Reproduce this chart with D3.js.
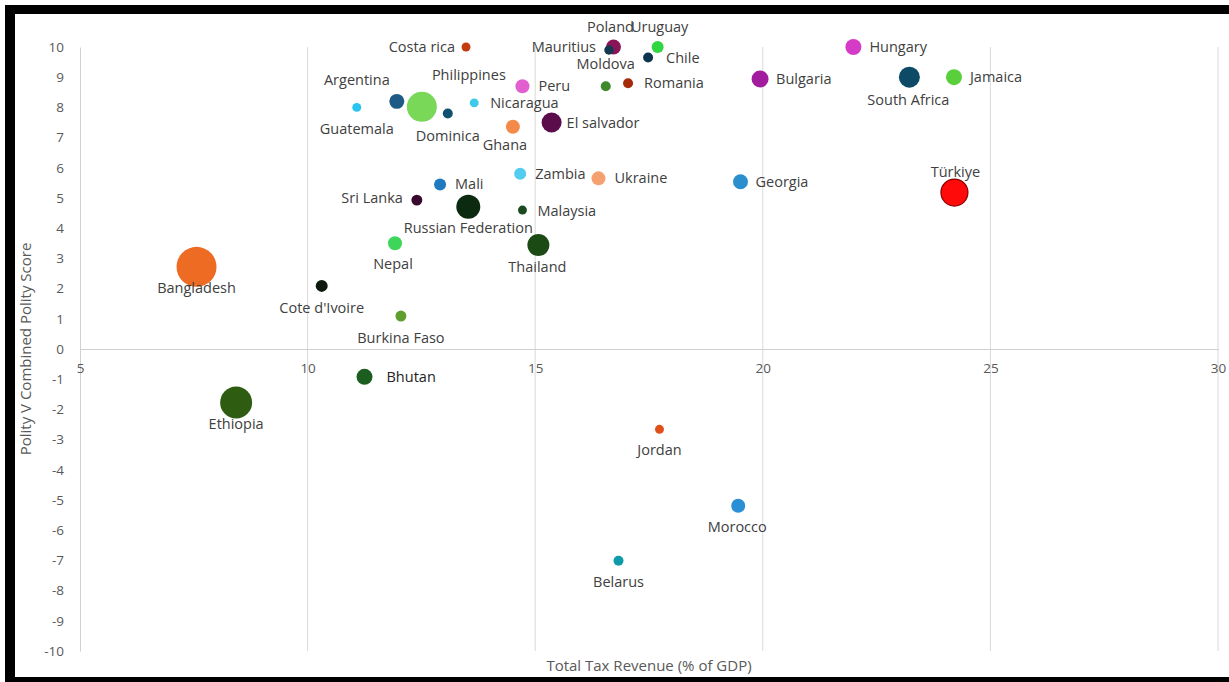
<!DOCTYPE html>
<html>
<head>
<meta charset="utf-8">
<script src="https://cdn.jsdelivr.net/npm/d3@7"></script>
<style>
  body { margin: 0; background: #fff; }
  text { font-family: "Open Sans", "Noto Sans", sans-serif; }
  .lbl { font-size: 14.5px; fill: #404040; }
  .tick text { font-size: 13.5px; fill: #595959; }
  .title { font-size: 15px; fill: #595959; }
</style>
</head>
<body>
<div id="chart"></div>
<script>
// data
var countries = ["Bangladesh", "Ethiopia", "Cote d'Ivoire", "Guatemala", "Bhutan", "Nepal",
  "Argentina", "Burkina Faso", "Sri Lanka", "Philippines", "Mali", "Dominica", "Costa rica",
  "Russian Federation", "Nicaragua", "Ghana", "Zambia", "Peru", "Malaysia", "Thailand",
  "El salvador", "Ukraine", "Moldova", "Poland", "Mauritius", "Belarus", "Romania", "Chile",
  "Uruguay", "Jordan", "Morocco", "Georgia", "Bulgaria", "Hungary", "South Africa", "Jamaica", "Türkiye"];
var taxRevenue = [7.56, 8.43, 10.31, 11.08, 11.25, 11.92,
  11.96, 12.05, 12.4, 12.51, 12.91, 13.08, 13.48,
  13.53, 13.66, 14.51, 14.67, 14.72, 14.72, 15.07,
  15.36, 16.39, 16.55, 16.72, 16.62, 16.83, 17.04, 17.48,
  17.69, 17.73, 19.46, 19.51, 19.94, 21.99, 23.22, 24.2, 24.21];
var polityScore = [2.72, -1.77, 2.09, 8.0, -0.92, 3.5,
  8.2, 1.09, 4.93, 8.02, 5.45, 7.8, 10,
  4.71, 8.15, 7.36, 5.8, 8.7, 4.6, 3.44,
  7.5, 5.65, 8.7, 10, 9.9, -7.01, 8.8, 9.65,
  10, -2.66, -5.19, 5.54, 8.94, 10, 9, 9, 5.18];
var bubbleSize = [400, 256, 36, 20, 64, 49,
  56, 30, 30, 225, 36, 25, 20,
  144, 20, 49, 36, 49, 20, 121,
  100, 49, 25, 56, 22, 25, 25, 25,
  36, 20, 49, 56, 72, 64, 110, 64, 182];
var xTicks = [5, 10, 15, 20, 25, 30];
var yTicks = d3.range(-10, 11);

// styling, kept apart from the data
var pointColors = ["#ee6b24", "#2e5d12", "#0d1a0d", "#29c4f0", "#1b5e20", "#3ed65a",
  "#1d5a85", "#5f9e2f", "#3a0a2e", "#7ad858", "#1e7bbf", "#0f5270", "#c23b0e",
  "#0b2a10", "#3ec9ea", "#f48a4a", "#52ccf0", "#e25fd0", "#1a4a20", "#1c4a15",
  "#5a0d4a", "#f5a070", "#3e8a2a", "#8a1458", "#123850", "#0e9aa8", "#a52a0a", "#0d3550",
  "#2ed641", "#e0501a", "#2a8fd6", "#2a8fcc", "#a21c9e", "#d43cc8", "#0c4a66", "#5acf3c", "#ff0a0a"];
// label offset from the bubble centre: [dx, dy, anchor]
var labelPos = {
  "Bangladesh": [0, 21, "middle"], "Ethiopia": [0, 21, "middle"], "Cote d'Ivoire": [0, 22, "middle"],
  "Guatemala": [0, 22, "middle"], "Bhutan": [22, 0, "start"], "Nepal": [-2, 21, "middle"],
  "Argentina": [-40, -21, "middle"], "Burkina Faso": [0, 22, "middle"], "Sri Lanka": [-14, -2, "end"],
  "Philippines": [47, -32, "middle"], "Mali": [15, 0, "start"], "Dominica": [0, 22, "middle"],
  "Costa rica": [-11, 0, "end"], "Russian Federation": [0, 21, "middle"], "Nicaragua": [16, 0, "start"],
  "Ghana": [-8, 18, "middle"], "Zambia": [15, 0, "start"], "Peru": [16, 0, "start"],
  "Malaysia": [15, 1, "start"], "Thailand": [-1, 22, "middle"], "El salvador": [15, 0, "start"],
  "Ukraine": [16, 0, "start"], "Moldova": [0, -22, "middle"], "Poland": [-3, -20, "middle"],
  "Mauritius": [-13, -3, "end"], "Belarus": [0, 21, "middle"], "Romania": [16, 0, "start"],
  "Chile": [18, 0, "start"], "Uruguay": [2, -20, "middle"], "Jordan": [0, 21, "middle"],
  "Morocco": [-1, 21, "middle"], "Georgia": [15, 0, "start"], "Bulgaria": [16, 0, "start"],
  "Hungary": [16, 0, "start"], "South Africa": [-1, 23, "middle"], "Jamaica": [16, 0, "start"],
  "Türkiye": [1, -21, "middle"]
};

var svgWidth = 1229, svgHeight = 682;
var svg = d3.select("#chart").append("svg")
  .attr("width", svgWidth)
  .attr("height", svgHeight);

svg.append("rect").attr("width", svgWidth).attr("height", svgHeight).attr("fill", "#fff");

// frame
svg.append("rect").attr("x", 5).attr("y", 5).attr("width", 1224).attr("height", 9).attr("fill", "#000");
svg.append("rect").attr("x", 5).attr("y", 5).attr("width", 10).attr("height", 677).attr("fill", "#000");
svg.append("rect").attr("x", 5).attr("y", 677).attr("width", 1224).attr("height", 5).attr("fill", "#000");

var x = d3.scaleLinear().domain([5, 30]).range([80, 1218]);
var y = d3.scaleLinear().domain([-10, 10]).range([651, 47]);
var r = d3.scaleSqrt().domain([0, 400]).range([0, 20]);

// vertical gridlines
svg.append("g").selectAll("line")
  .data(xTicks.slice(1))
  .enter().append("line")
  .attr("x1", d => x(d)).attr("x2", d => x(d))
  .attr("y1", y(10)).attr("y2", y(-10))
  .attr("stroke", "#d9d9d9").attr("stroke-width", 1);

// y axis
var yAxis = svg.append("g")
  .attr("transform", `translate(${x(5)}, 0)`)
  .call(d3.axisLeft(y).tickValues(yTicks).tickSize(0).tickPadding(16).tickFormat(d => String(d)));
yAxis.select(".domain").attr("stroke", "#d0d0d0");

// x axis crosses at 0
var xAxis = svg.append("g")
  .attr("transform", `translate(0, ${y(0)})`)
  .call(d3.axisBottom(x).tickValues(xTicks).tickSize(0).tickPadding(14).tickFormat(d => String(d)));
xAxis.select(".domain").attr("stroke", "#d0d0d0");

// axis titles
svg.append("text").attr("class", "title")
  .attr("text-anchor", "middle")
  .attr("transform", `translate(26, ${y(0)}) rotate(-90)`)
  .attr("dy", "0.35em")
  .text("Polity V Combined Polity Score");

svg.append("text").attr("class", "title")
  .attr("text-anchor", "middle")
  .attr("x", (x(5) + x(30)) / 2).attr("y", 666)
  .attr("dy", "0.35em")
  .text("Total Tax Revenue (% of  GDP)");

var points = countries.map((c, i) => ({
  name: c, tax: taxRevenue[i], polity: polityScore[i], size: bubbleSize[i], color: pointColors[i]
}));

// big bubbles first, small ones on top
var drawOrder = points.slice().sort((a, b) => b.size - a.size);

svg.append("g").selectAll("circle")
  .data(drawOrder)
  .enter().append("circle")
  .attr("cx", d => x(d.tax))
  .attr("cy", d => y(d.polity))
  .attr("r", d => r(d.size))
  .attr("fill", d => d.color)
  .attr("stroke", d => d.name == "Türkiye" ? "#8a0000" : "none")
  .attr("stroke-width", 1.2);

svg.append("g").selectAll("text")
  .data(points)
  .enter().append("text")
  .attr("class", "lbl")
  .attr("x", d => x(d.tax) + labelPos[d.name][0])
  .attr("y", d => y(d.polity) + labelPos[d.name][1])
  .attr("dy", "0.35em")
  .attr("text-anchor", d => labelPos[d.name][2])
  .style("fill", d => d.name == "Bhutan" ? "#222" : null)
  .text(d => d.name);
</script>
</body>
</html>
